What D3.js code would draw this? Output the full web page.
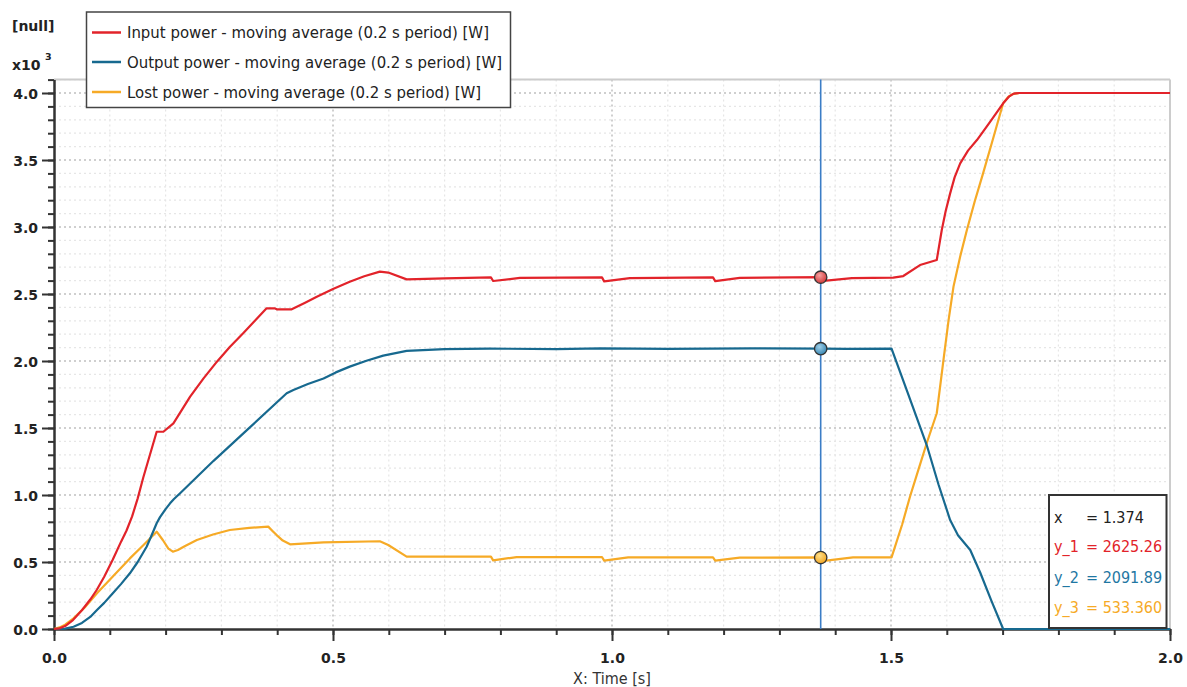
<!DOCTYPE html>
<html><head><meta charset="utf-8">
<script src="https://cdn.jsdelivr.net/npm/d3@7"></script>
<style>
html,body{margin:0;padding:0;background:#fff;}
svg{display:block;font-family:"DejaVu Sans",Verdana,sans-serif;}
</style></head><body>
<svg id="chart" width="1187" height="687"></svg>
<script>
// ---------------- data ----------------
const seriesNames = [
  "Input power - moving average (0.2 s period) [W]",
  "Output power - moving average (0.2 s period) [W]",
  "Lost power - moving average (0.2 s period) [W]"
];
const timeDomain = [0, 2];
const valueDomain = [0, 4100];
const xMajorTicks = [0, 0.5, 1.0, 1.5, 2.0];
const yMajorTicks = [0, 500, 1000, 1500, 2000, 2500, 3000, 3500, 4000];
const xMinorStep = 0.1;
const yMinorStep = 100;
const yAxisUnit = "[null]";
const yAxisScaleText = "x10";
const yAxisScaleExp = "3";
const xAxisTitle = "X: Time [s]";

// [time s, power W]
const inputPower = [
  [0,0],[0.01,5],[0.02,22],[0.034,67],[0.05,140],[0.065,220],[0.0765,291],[0.09,390],
  [0.105,515],[0.12,650],[0.13,735],[0.14,840],[0.15,975],[0.16,1131],[0.184,1472],[0.196,1472],
  [0.214,1535],[0.244,1734],[0.268,1870],[0.292,1995],[0.315,2105],[0.339,2207],[0.36,2300],
  [0.381,2393],[0.396,2393],[0.399,2386],[0.426,2386],[0.45,2435],[0.471,2480],[0.50,2538],
  [0.530,2592],[0.556,2632],[0.584,2667],[0.599,2660],[0.632,2609],[0.70,2616],[0.783,2624],
  [0.787,2597],[0.835,2620],[0.982,2624],[0.986,2594],[1.032,2618],[1.181,2624],[1.185,2596],
  [1.229,2620],[1.379,2626],[1.384,2600],[1.43,2618],[1.504,2622],[1.522,2634],[1.552,2716],
  [1.582,2754],[1.591,2978],[1.598,3120],[1.606,3251],[1.614,3370],[1.624,3475],[1.638,3570],
  [1.654,3649],[1.675,3770],[1.701,3923],[1.712,3975],[1.72,3995],[1.73,4000],[2.0,4000]
];
const outputPower = [
  [0,0],[0.02,3],[0.035,17],[0.05,45],[0.065,90],[0.077,142],[0.09,195],[0.105,265],
  [0.12,335],[0.136,416],[0.15,500],[0.166,614],[0.175,700],[0.184,789],[0.19,835],
  [0.2,895],[0.208,938],[0.215,970],[0.226,1013],[0.286,1255],[0.351,1505],[0.417,1759],
  [0.429,1784],[0.455,1828],[0.483,1870],[0.505,1915],[0.530,1958],[0.56,2002],[0.59,2040],
  [0.632,2075],[0.70,2088],[0.78,2093],[0.90,2088],[0.98,2094],[1.10,2090],[1.25,2094],
  [1.374,2092],[1.42,2090],[1.501,2093],[1.53,1762],[1.564,1373],[1.585,1080],[1.606,813],
  [1.62,700],[1.642,590],[1.66,420],[1.68,210],[1.701,0],[2.0,0]
];
const lostPower = [
  [0,0],[0.01,12],[0.02,32],[0.035,80],[0.055,160],[0.077,266],[0.105,390],[0.136,527],
  [0.16,625],[0.184,726],[0.195,664],[0.205,600],[0.213,577],[0.222,590],[0.235,620],
  [0.256,664],[0.285,705],[0.315,739],[0.35,755],[0.384,764],[0.392,730],[0.399,701],
  [0.41,660],[0.423,632],[0.483,647],[0.584,655],[0.599,627],[0.632,540],[0.783,540],
  [0.787,512],[0.829,537],[0.982,537],[0.986,510],[1.029,535],[1.181,535],[1.185,510],
  [1.229,533],[1.379,534],[1.384,510],[1.432,535],[1.501,535],[1.52,780],[1.534,987],
  [1.55,1200],[1.564,1386],[1.582,1610],[1.594,2007],[1.603,2300],[1.612,2555],[1.624,2780],
  [1.636,2978],[1.65,3190],[1.665,3400],[1.683,3660],[1.701,3923],[1.71,3970],[1.718,3992],
  [1.73,4000],[2.0,4000]
];
const cursorTime = 1.374;
const cursorValues = [2625.26, 2091.89, 533.360];
const cursorTexts = ["x     = 1.374", "y_1 = 2625.26", "y_2 = 2091.89", "y_3 = 533.360"];

// ---------------- styles ----------------
const colors = ["#e2232a", "#17698f", "#f6aa26"];
const fillLight = ["#f7a0a0", "#9fd0ea", "#ffe08a"];
const fillDark = ["#d23a3a", "#3a88b3", "#f2a623"];
const textFont = "'DejaVu Sans Condensed','DejaVu Sans',sans-serif";

const svg = d3.select("#chart");
const X0 = 54, X1 = 1170, Y0 = 629, PX_PER_K = 134;
const x = d3.scaleLinear().domain(timeDomain).range([X0, X1]);
const y = d3.scaleLinear().domain(valueDomain).range([Y0, Y0 - PX_PER_K * valueDomain[1] / 1000]);
const yTop = y(valueDomain[1]);

const defs = svg.append("defs");
colors.forEach((c, i) => {
  const g = defs.append("radialGradient").attr("id", "grad" + i)
    .attr("cx", "40%").attr("cy", "35%").attr("r", "65%");
  g.append("stop").attr("offset", "0%").attr("stop-color", fillLight[i]);
  g.append("stop").attr("offset", "100%").attr("stop-color", fillDark[i]);
});

// grid
const xMinor = d3.range(timeDomain[0], timeDomain[1] + 1e-9, xMinorStep);
const yMinor = d3.range(valueDomain[0], valueDomain[1] + 1e-9, yMinorStep);
const isMajorX = v => xMajorTicks.some(m => Math.abs(m - v) < 1e-6);
const isMajorY = v => yMajorTicks.some(m => Math.abs(m - v) < 1e-6);
const grid = svg.append("g");
grid.selectAll(".gx").data(xMinor.filter(v => v > 0 && v < timeDomain[1] - 1e-6)).join("line")
  .attr("x1", d => x(d)).attr("x2", d => x(d)).attr("y1", yTop).attr("y2", Y0)
  .attr("stroke", d => isMajorX(d) ? "#cfcfcf" : "#e6e6e6")
  .attr("stroke-width", d => isMajorX(d) ? 2 : 1.2)
  .attr("stroke-dasharray", "2,3");
grid.selectAll(".gy").data(yMinor.filter(v => v > 0)).join("line")
  .attr("x1", X0).attr("x2", X1).attr("y1", d => y(d)).attr("y2", d => y(d))
  .attr("stroke", d => isMajorY(d) ? "#cfcfcf" : "#e6e6e6")
  .attr("stroke-width", d => isMajorY(d) ? 2 : 1.2)
  .attr("stroke-dasharray", "2,3");

// frame top / right
svg.append("line").attr("x1", X0).attr("x2", X1).attr("y1", yTop).attr("y2", yTop)
  .attr("stroke", "#cccccc").attr("stroke-width", 2);
svg.append("line").attr("x1", X1).attr("x2", X1).attr("y1", yTop).attr("y2", Y0)
  .attr("stroke", "#cccccc").attr("stroke-width", 2);

// axes
function styleAxis(g) {
  g.select(".domain").attr("stroke", "#333").attr("stroke-width", 2);
  g.selectAll(".tick line").attr("stroke", "#333").attr("stroke-width", 2);
  g.selectAll("text").attr("fill", "#222").attr("font-size", 14).attr("font-weight", "bold")
    .attr("font-family", "'DejaVu Sans',Verdana,sans-serif");
}
const fmt = v => (v / 1000).toFixed(1);
const xMinorAxis = svg.append("g").attr("transform", `translate(0,${Y0})`)
  .call(d3.axisBottom(x).tickValues(xMinor).tickSize(6).tickFormat("").tickSizeOuter(0));
styleAxis(xMinorAxis);
const xAxis = svg.append("g").attr("transform", `translate(0,${Y0})`)
  .call(d3.axisBottom(x).tickValues(xMajorTicks).tickSize(12).tickFormat(d3.format(".1f")).tickSizeOuter(0));
styleAxis(xAxis);
xAxis.selectAll("text").attr("y", 34).attr("dy", null);

const yMinorAxis = svg.append("g").attr("transform", `translate(${X0},0)`)
  .call(d3.axisLeft(y).tickValues(yMinor).tickSize(6).tickFormat("").tickSizeOuter(0));
styleAxis(yMinorAxis);
const yAxis = svg.append("g").attr("transform", `translate(${X0},0)`)
  .call(d3.axisLeft(y).tickValues(yMajorTicks).tickSize(12).tickFormat(fmt).tickSizeOuter(0));
styleAxis(yAxis);
yAxis.selectAll("text").attr("x", -16).attr("dy", "0.36em");

// axis titles
svg.append("text").attr("x", 12).attr("y", 31).text(yAxisUnit)
  .attr("font-size", 14).attr("font-weight", "bold").attr("fill", "#222");
svg.append("text").attr("x", 12).attr("y", 70).text(yAxisScaleText)
  .attr("font-size", 14).attr("font-weight", "bold").attr("fill", "#222");
svg.append("text").attr("x", 45).attr("y", 60).text(yAxisScaleExp)
  .attr("font-size", 9.5).attr("font-weight", "bold").attr("fill", "#222");
svg.append("text").attr("x", (X0 + X1) / 2).attr("y", 684).attr("text-anchor", "middle")
  .text(xAxisTitle).attr("font-size", 16).attr("fill", "#333").attr("font-family", textFont);

// lines
const line = d3.line().x(d => x(d[0])).y(d => y(d[1])).curve(d3.curveLinear);
const allSeries = [inputPower, outputPower, lostPower];
const drawOrder = [2, 1, 0];
drawOrder.forEach(i => {
  svg.append("path").datum(allSeries[i]).attr("d", line).attr("fill", "none")
    .attr("stroke", colors[i]).attr("stroke-width", 2.2).attr("stroke-linejoin", "round");
});

// cursor
svg.append("line").attr("x1", x(cursorTime)).attr("x2", x(cursorTime))
  .attr("y1", yTop).attr("y2", Y0).attr("stroke", "#3b7dc6").attr("stroke-width", 1.6);
cursorValues.forEach((v, i) => {
  svg.append("circle").attr("cx", x(cursorTime)).attr("cy", y(v)).attr("r", 6.2)
    .attr("fill", `url(#grad${i})`).attr("stroke", "#333").attr("stroke-width", 1.3);
});

// legend
const lg = svg.append("g");
lg.append("rect").attr("x", 86.5).attr("y", 12).attr("width", 424).attr("height", 95.5)
  .attr("fill", "#fff").attr("stroke", "#444").attr("stroke-width", 1.5);
const rowsY = [32.5, 62, 92];
seriesNames.forEach((n, i) => {
  lg.append("line").attr("x1", 92).attr("x2", 121).attr("y1", rowsY[i]).attr("y2", rowsY[i])
    .attr("stroke", colors[i]).attr("stroke-width", 2.5);
  lg.append("text").attr("x", 127).attr("y", rowsY[i]).attr("dy", "0.36em").text(n)
    .attr("font-size", 16.6).attr("fill", "#222").attr("font-family", textFont);
});

// info box
const ib = svg.append("g");
ib.append("rect").attr("x", 1049).attr("y", 495).attr("width", 117.5).attr("height", 133)
  .attr("fill", "#fff").attr("stroke", "#333").attr("stroke-width", 2);
const infoColors = ["#222", colors[0], "#1f77a3", colors[2]];
const infoY = [517, 546.5, 577.5, 607];
cursorTexts.forEach((t, i) => {
  const parts = t.split("=");
  ib.append("text").attr("x", 1054).attr("y", infoY[i]).attr("dy", "0.36em")
    .text(parts[0].trim()).attr("font-size", 16).attr("fill", infoColors[i]).attr("font-family", textFont);
  ib.append("text").attr("x", 1086).attr("y", infoY[i]).attr("dy", "0.36em")
    .text("= " + parts[1].trim()).attr("font-size", 16).attr("fill", infoColors[i]).attr("font-family", textFont);
});
</script>
</body></html>
